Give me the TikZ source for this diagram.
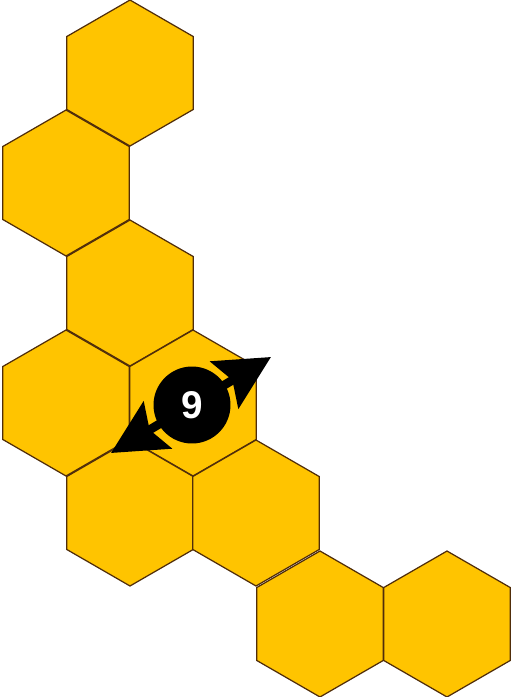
\documentclass[tikz,border=0pt]{standalone}
\usepackage{fontspec}
\setsansfont{Liberation Sans}
\usetikzlibrary{shapes.geometric,arrows.meta}
\definecolor{honey}{RGB}{255,196,0}
\definecolor{combEdge}{RGB}{80,45,10}

\begin{document}
\begin{tikzpicture}
[x=0.02cm,y=-0.02cm,%
  hexDecorate/.style={regular polygon,regular polygon sides=6,shape border rotate=30,
    minimum size=2.92cm,inner sep=0pt,outer sep=0pt,draw=combEdge,fill=honey,line width=0.7pt},%
  badgeDecorate/.style={circle,fill=black,minimum size=1.54cm,inner sep=0pt,text=white,
    font=\fontsize{22}{22}\selectfont\sffamily\bfseries},%
  arrowDecorate/.style={{Stealth[length=1.08cm,width=1.08cm,inset=0.18cm]}-{Stealth[length=1.08cm,width=1.08cm,inset=0.18cm]},
    line width=5pt}]
\useasboundingbox (0,0) rectangle (512,697);
%% cells of the comb
\foreach \cellname/\x/\y in {
  h1/130/73, h2/66/183, h3/130/293, h4/66/403, h5/193/403,
  h6/130/513, h7/256/513, h8/320/624, h9/447/624}
{
  \node (\cellname) at (\x,\y) [hexDecorate] {};
}
%% badge and its arrow
\coordinate (tailend) at (111,453);
\coordinate (headend) at (271,357);
\draw[arrowDecorate] (tailend) -- (headend);
\node (badge) at (192,405) [badgeDecorate] {9};
\end{tikzpicture}
\end{document}
